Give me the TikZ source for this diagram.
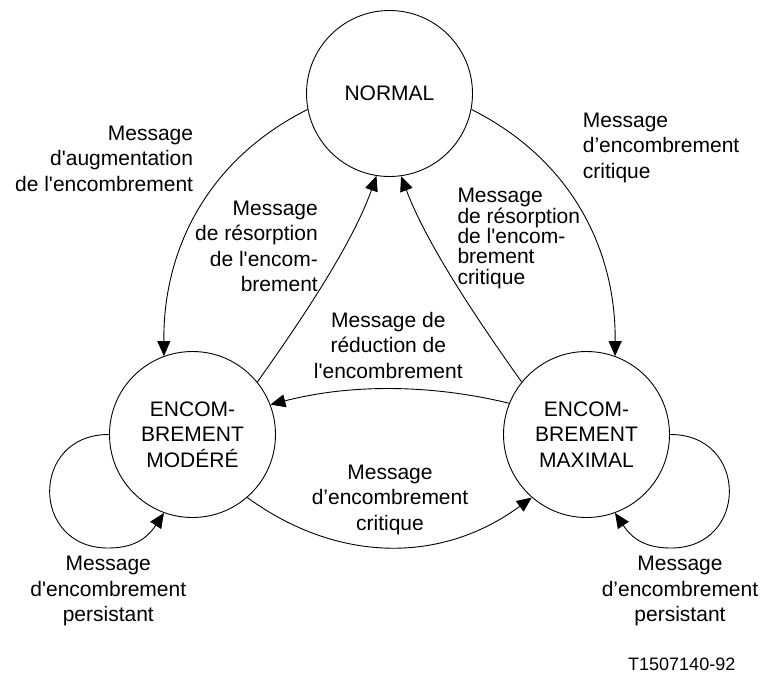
\documentclass[tikz,border=0pt]{standalone}
\usepackage{fontspec}
\usetikzlibrary{arrows.meta}
\newfontfamily\lab{Liberation Sans}
\begin{document}
\begin{tikzpicture}[x=1pt,y=-1pt,
  state/.style={circle,draw,line width=0.9pt,minimum size=166pt,inner sep=0pt,
    align=center,font=\lab\fontsize{21}{25.5}\selectfont},
  msg/.style={inner sep=0pt,font=\lab\fontsize{21}{25.5}\selectfont},
  tight/.style={inner sep=0pt,font=\lab\fontsize{21}{20.4}\selectfont},
  trans/.style={line width=0.9pt,-{Triangle[length=15pt,width=13pt]}}]
\useasboundingbox (0,0) rectangle (763,673);

% states
\node[state] (N) at (389.5,93.5) {NORMAL};
\node[state] (M) at (192.5,434.5) {ENCOM-\\BREMENT\\MODÉRÉ};
\node[state] (X) at (586.5,434.5) {ENCOM-\\BREMENT\\MAXIMAL};

% transitions
\draw[trans] (N.191) .. controls (207,160) and (163,250) .. (M.110);
\draw[trans] (M.39) .. controls (300,322) and (352,245) .. (N.261.5);
\draw[trans] (N.349) .. controls (572,160) and (616,250) .. (X.70);
\draw[trans] (X.141) .. controls (479,322) and (427,245) .. (N.278.5);
\draw[trans] (X.158) .. controls (430,384) and (350,384) .. (M.21);
\draw[trans] (M.311) .. controls (338,563.6) and (442,563.6) .. (X.229);
\draw[trans] (M.180) .. controls (30,434) and (30,548) .. (108,548)
                     .. controls (132,548) and (146,540) .. (M.250);
\draw[trans] (X.0) .. controls (749,434) and (749,548) .. (671,548)
                   .. controls (647,548) and (633,540) .. (X.290);

% messages (anchored on the baseline of their last line)
\node[msg,align=right,anchor=base east] (la) at (193.3,191)
  {Message\\d'augmentation\\de l'encombrement};
\node[msg,align=right,anchor=base east] (lb) at (318,291.7)
  {Message\\de résorption\\de l'encom-\\brement};
\node[msg,align=left,anchor=base west] (lc) at (582.7,178.3)
  {Message\\d’encombrement\\critique};
\node[tight,align=left,anchor=base west] (ld) at (457.3,284.3)
  {Message\\de résorption\\de l'encom-\\brement\\critique};
\node[msg,align=center,anchor=base] (le) at (388.3,378.3)
  {Message de\\réduction de\\l'encombrement};
\node[msg,align=center,anchor=base] (lf) at (390,530)
  {Message\\d’encombrement\\critique};
\node[msg,align=center,anchor=base] (lg) at (108.3,621.7)
  {Message\\d'encombrement\\persistant};
\node[msg,align=center,anchor=base] (lh) at (680,621.7)
  {Message\\d’encombrement\\persistant};
\node[inner sep=0pt,anchor=base west,font=\lab\fontsize{18}{20}\selectfont] (ref) at (628,670) {T1507140-92};
\end{tikzpicture}
\end{document}
